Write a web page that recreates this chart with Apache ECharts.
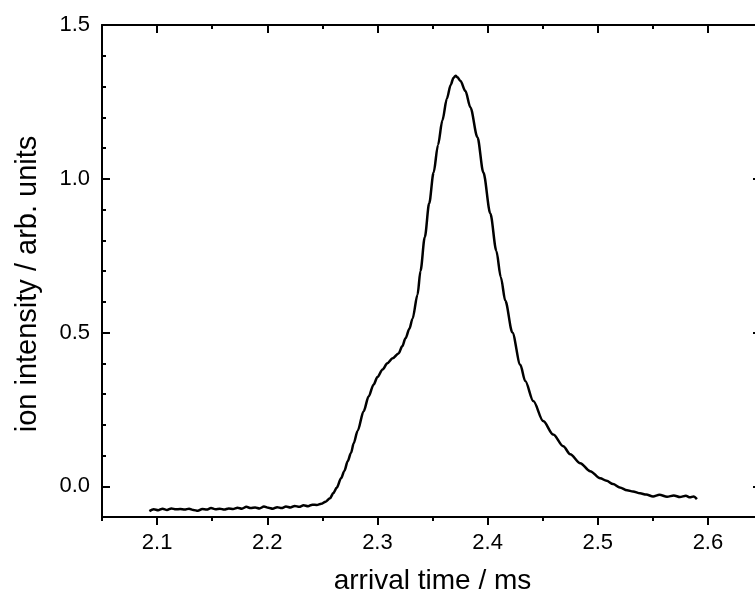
<!DOCTYPE html>
<html>
<head>
<meta charset="utf-8" />
<title>arrival time distribution</title>
<script src="https://cdn.jsdelivr.net/npm/echarts@6.0.0/dist/echarts.min.js"></script>
<style>
  html, body { margin: 0; padding: 0; background: #fff; }
  #main { width: 755px; height: 597px; }
</style>
</head>
<body>
<div id="main"></div>
<script>
// values (ms, arb. units)
const arrivalTime = [
  2.093, 2.097, 2.101, 2.105, 2.109, 2.113, 2.117, 2.121, 2.125, 2.129,
  2.133, 2.137, 2.141, 2.145, 2.149, 2.153, 2.157, 2.161, 2.165, 2.169,
  2.173, 2.177, 2.181, 2.185, 2.189, 2.193, 2.197, 2.201, 2.205, 2.209,
  2.213, 2.217, 2.221, 2.225, 2.229, 2.233, 2.237, 2.241, 2.245, 2.249,
  2.253, 2.257, 2.260, 2.263, 2.267, 2.270, 2.273, 2.276, 2.2785, 2.282,
  2.2875, 2.292, 2.2966, 2.300, 2.3047, 2.309, 2.3138, 2.3192, 2.3225, 2.3255,
  2.329, 2.3319, 2.3364, 2.3391, 2.343, 2.347, 2.351, 2.355, 2.359, 2.363,
  2.3665, 2.369, 2.371, 2.3726, 2.3754, 2.3799, 2.3844, 2.3908, 2.3962, 2.4025,
  2.408, 2.412, 2.4161, 2.4225, 2.4297, 2.4342, 2.4415, 2.4505, 2.4596, 2.4687,
  2.475, 2.4841, 2.4931, 2.5022, 2.508, 2.5139, 2.520, 2.5266, 2.532, 2.5384,
  2.544, 2.5502, 2.556, 2.5629, 2.569, 2.5746, 2.580, 2.5837, 2.587, 2.590
];
const intensity = [
  -0.081, -0.075, -0.078, -0.073, -0.077, -0.072, -0.075, -0.074, -0.076, -0.073,
  -0.077, -0.080, -0.074, -0.076, -0.071, -0.075, -0.073, -0.076, -0.072, -0.074,
  -0.070, -0.073, -0.067, -0.071, -0.069, -0.072, -0.066, -0.070, -0.073, -0.068,
  -0.071, -0.066, -0.069, -0.064, -0.067, -0.062, -0.065, -0.060, -0.061, -0.057,
  -0.050, -0.039, -0.022, -0.005, 0.026, 0.050, 0.081, 0.108, 0.140, 0.180,
  0.244, 0.292, 0.331, 0.355, 0.380, 0.400, 0.416, 0.432, 0.455, 0.481,
  0.512, 0.545, 0.623, 0.700, 0.810, 0.920, 1.020, 1.110, 1.190, 1.260,
  1.305, 1.328, 1.335, 1.330, 1.318, 1.285, 1.232, 1.135, 1.020, 0.887,
  0.765, 0.680, 0.603, 0.500, 0.395, 0.342, 0.277, 0.212, 0.168, 0.130,
  0.104, 0.075, 0.049, 0.026, 0.018, 0.007, -0.004, -0.013, -0.017, -0.023,
  -0.027, -0.033, -0.028, -0.034, -0.030, -0.035, -0.031, -0.036, -0.033, -0.042
];
const xMajorTicks = [2.1, 2.2, 2.3, 2.4, 2.5, 2.6];
const xMinorTicks = [2.05, 2.15, 2.25, 2.35, 2.45, 2.55, 2.65];
const yMajorTicks = [0, 0.5, 1.0, 1.5];
const yMinorTicks = [-0.1, 0.1, 0.2, 0.3, 0.4, 0.6, 0.7, 0.8, 0.9, 1.1, 1.2, 1.3, 1.4];

const xRange = { min: 2.05, max: 2.65 };
const yRange = { min: -0.1, max: 1.5 };
const font = 'Arial, "Liberation Sans", sans-serif';
const black = '#000';

const trace = arrivalTime.map((t, i) => [t, intensity[i]]);

function axisBase(range, extra) {
  return Object.assign({
    type: 'value',
    min: range.min,
    max: range.max,
    splitLine: { show: false },
    axisLine: { show: false, onZero: false },
    axisLabel: { show: false },
    axisTick: { show: false }
  }, extra);
}

function majorTick(vals, inside, len) {
  return { show: true, inside: inside, length: len || 8, customValues: vals, lineStyle: { color: black, width: 2 } };
}
function minorTick(vals, inside) {
  return { show: true, inside: inside, length: 4, customValues: vals, lineStyle: { color: black, width: 2 } };
}
const axisLineStyle = { show: true, onZero: false, lineStyle: { color: black, width: 2 } };

const myChart = echarts.init(document.getElementById('main'), null, { renderer: 'canvas' });
myChart.setOption({
  animation: false,
  backgroundColor: '#fff',
  // frame runs past the right edge of the picture, as in the original
  grid: { left: 102, top: 25, width: 661, height: 492, containLabel: false, outerBoundsMode: 'none' },
  xAxis: [
    axisBase(xRange, {
      position: 'bottom',
      axisLine: axisLineStyle,
      axisTick: majorTick(xMajorTicks, false),
      axisLabel: {
        show: true, customValues: xMajorTicks, margin: 15,
        color: black, fontSize: 22, fontFamily: font,
        formatter: v => v.toFixed(1)
      },
      name: 'arrival time / ms',
      nameLocation: 'middle',
      nameGap: 50,
      nameTextStyle: { color: black, fontSize: 28, fontFamily: font }
    }),
    axisBase(xRange, { position: 'bottom', axisTick: minorTick(xMinorTicks, false) }),
    axisBase(xRange, { position: 'top', axisLine: axisLineStyle, axisTick: majorTick(xMajorTicks, true) }),
    axisBase(xRange, { position: 'top', axisTick: minorTick(xMinorTicks, true) })
  ],
  yAxis: [
    axisBase(yRange, {
      position: 'left',
      axisLine: axisLineStyle,
      axisTick: majorTick(yMajorTicks, true),
      axisLabel: {
        show: true, customValues: yMajorTicks, margin: 12,
        color: black, fontSize: 22, fontFamily: font,
        formatter: v => v.toFixed(1)
      },
      name: 'ion intensity / arb. units',
      nameLocation: 'middle',
      nameGap: 60,
      nameTextStyle: { color: black, fontSize: 29, fontFamily: font, padding: [0, 26, 0, 0] }
    }),
    axisBase(yRange, { position: 'left', axisTick: minorTick(yMinorTicks, true) }),
    axisBase(yRange, { position: 'right', axisLine: axisLineStyle, axisTick: majorTick(yMajorTicks, true, 10) }),
    axisBase(yRange, { position: 'right', axisTick: minorTick(yMinorTicks, true) })
  ],
  series: [
    {
      type: 'line',
      data: trace,
      xAxisIndex: 0,
      yAxisIndex: 0,
      showSymbol: false,
      symbol: 'none',
      smooth: 0.3,
      smoothMonotone: 'x',
      lineStyle: { color: black, width: 2.5 },
      z: 3
    }
  ]
});
</script>
</body>
</html>
